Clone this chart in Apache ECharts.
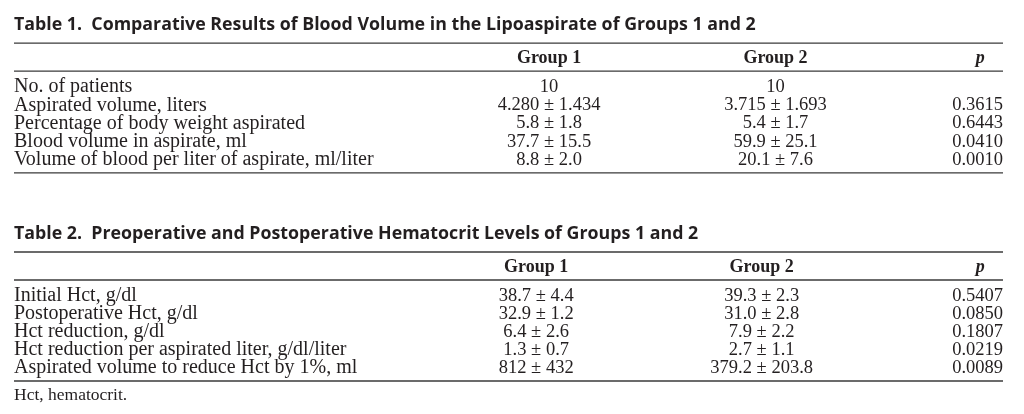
<!DOCTYPE html>
<html><head><meta charset="utf-8">
<script src="https://cdn.jsdelivr.net/npm/echarts@6/dist/echarts.min.js"></script>
<style>html,body{margin:0;padding:0;background:#fff}#c{width:1024px;height:414px}</style>
</head><body><div id="c"></div>
<script>
// ---- data ----
const headers = ['Group 1', 'Group 2', 'p'];

const t1Title = 'Table 1.  Comparative Results of Blood Volume in the Lipoaspirate of Groups 1 and 2';
const t1Rows = ['No. of patients', 'Aspirated volume, liters', 'Percentage of body weight aspirated', 'Blood volume in aspirate, ml', 'Volume of blood per liter of aspirate, ml/liter'];
const t1Group1 = ['10', '4.280 ± 1.434', '5.8 ± 1.8', '37.7 ± 15.5', '8.8 ± 2.0'];
const t1Group2 = ['10', '3.715 ± 1.693', '5.4 ± 1.7', '59.9 ± 25.1', '20.1 ± 7.6'];
const t1P = ['', '0.3615', '0.6443', '0.0410', '0.0010'];

const t2Title = 'Table 2.  Preoperative and Postoperative Hematocrit Levels of Groups 1 and 2';
const t2Rows = ['Initial Hct, g/dl', 'Postoperative Hct, g/dl', 'Hct reduction, g/dl', 'Hct reduction per aspirated liter, g/dl/liter', 'Aspirated volume to reduce Hct by 1%, ml'];
const t2Group1 = ['38.7 ± 4.4', '32.9 ± 1.2', '6.4 ± 2.6', '1.3 ± 0.7', '812 ± 432'];
const t2Group2 = ['39.3 ± 2.3', '31.0 ± 2.8', '7.9 ± 2.2', '2.7 ± 1.1', '379.2 ± 203.8'];
const t2P = ['0.5407', '0.0850', '0.1807', '0.0219', '0.0089'];
const t2Note = 'Hct, hematocrit.';

// ---- style ----
const ink = '#231f20';
const ruleColor = '#3a3a3a';
const labelFont = '20px "Liberation Serif"';
const numFont = '18.5px "Liberation Serif"';
const headFont = 'bold 18px "Liberation Serif"';
const titleFont = 'bold 17.8px "Open Sans"';
const noteFont = '17.5px "Liberation Serif"';

function tableSeries(gi, title, rows, g1, g2, p, cols, note) {
  const rowSeries = {
    type: 'custom', coordinateSystem: 'cartesian2d', xAxisIndex: gi, yAxisIndex: gi,
    data: rows.map((r, i) => [0, i]),
    renderItem(params, api) {
      const i = api.value(1);
      const y = api.coord([0, i])[1];
      const cs = params.coordSys;
      const xOf = f => cs.x + f * cs.width;
      const cells = [[rows[i], 0, 'left', labelFont], [g1[i], cols[0], 'center', numFont], [g2[i], cols[1], 'center', numFont], [p[i], 1, 'right', numFont]];
      return { type: 'group', children: cells.map(([t, f, al, fnt]) => ({
        type: 'text', style: { text: t, x: xOf(f), y: y, align: al, verticalAlign: 'middle', font: fnt, fill: ink }
      })) };
    }
  };
  const frameSeries = {
    type: 'custom', coordinateSystem: 'cartesian2d', xAxisIndex: gi, yAxisIndex: gi,
    data: [[0, 0]],
    renderItem(params, api) {
      const cs = params.coordSys;
      const xOf = f => cs.x + f * cs.width;
      const yFirst = api.coord([0, 0])[1];
      const yLast = api.coord([0, rows.length - 1])[1];
      const hy = yFirst - 29;
      const r1 = hy - 15, r2 = hy + 13, r3 = yLast + 13;
      const line = y => ({ type: 'line', shape: { x1: cs.x, y1: y, x2: cs.x + cs.width, y2: y }, style: { stroke: ruleColor, lineWidth: 1.3 } });
      const ch = [
        { type: 'text', style: { text: title, x: cs.x, y: r1 - 18, verticalAlign: 'middle', font: titleFont, fill: ink } },
        line(r1), line(r2), line(r3),
        { type: 'text', style: { text: headers[0], x: xOf(cols[0]), y: hy, align: 'center', verticalAlign: 'middle', font: headFont, fill: ink } },
        { type: 'text', style: { text: headers[1], x: xOf(cols[1]), y: hy, align: 'center', verticalAlign: 'middle', font: headFont, fill: ink } },
        { type: 'text', style: { text: headers[2], x: xOf(cols[2]), y: hy, align: 'center', verticalAlign: 'middle', font: 'italic ' + headFont, fill: ink } }
      ];
      if (note) ch.push({ type: 'text', style: { text: note, x: cs.x, y: r3 + 14, verticalAlign: 'middle', font: noteFont, fill: ink } });
      return { type: 'group', children: ch };
    }
  };
  return [frameSeries, rowSeries];
}

const chart = echarts.init(document.getElementById('c'), null, { renderer: 'canvas' });
chart.setOption({
  animation: false,
  grid: [
    { left: 14, right: 21, top: 78, height: 91 },
    { left: 14, right: 21, top: 287, height: 90 }
  ],
  xAxis: [
    { gridIndex: 0, type: 'value', min: 0, max: 1, show: false },
    { gridIndex: 1, type: 'value', min: 0, max: 1, show: false }
  ],
  yAxis: [
    { gridIndex: 0, type: 'category', data: t1Rows, inverse: true, show: false },
    { gridIndex: 1, type: 'category', data: t2Rows, inverse: true, show: false }
  ],
  series: [
    ...tableSeries(0, t1Title, t1Rows, t1Group1, t1Group2, t1P, [0.541, 0.770, 0.977], null),
    ...tableSeries(1, t2Title, t2Rows, t2Group1, t2Group2, t2P, [0.528, 0.756, 0.977], t2Note)
  ]
});
</script></body></html>
